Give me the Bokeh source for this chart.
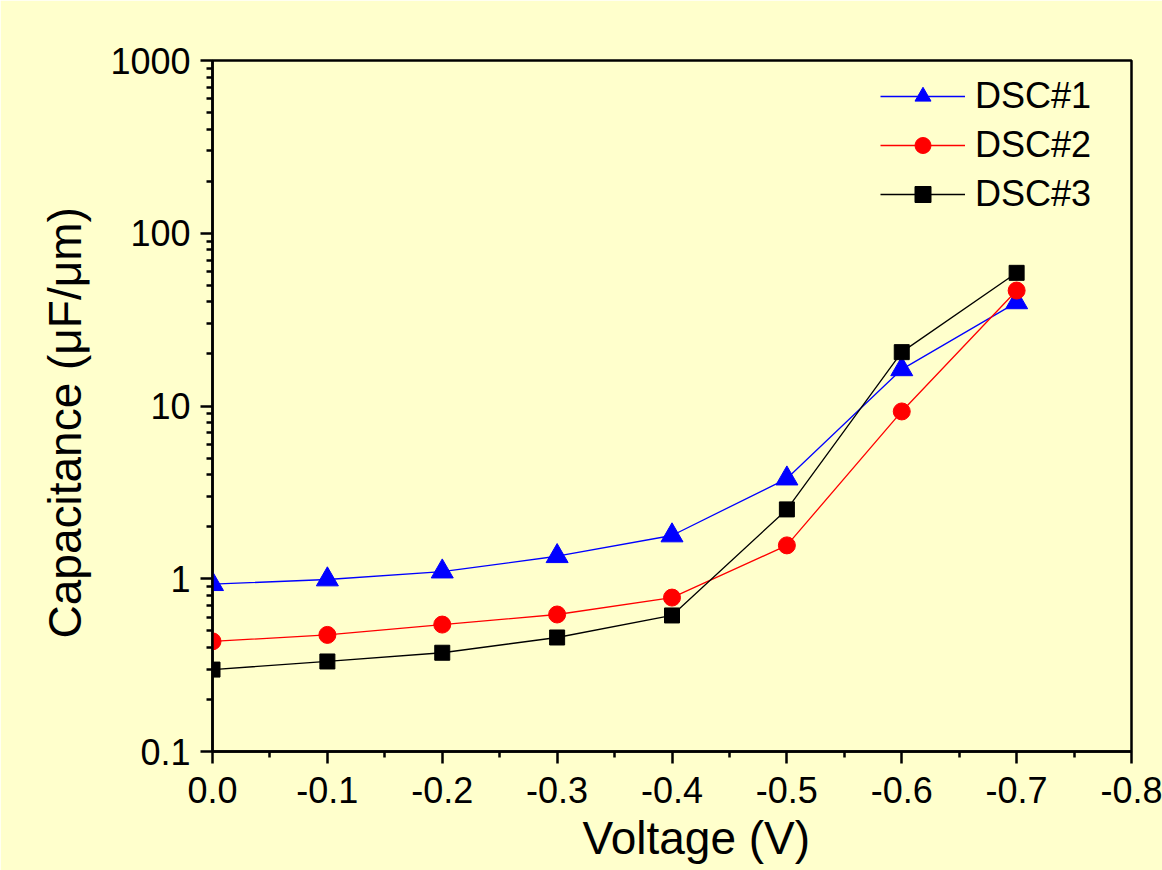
from bokeh.plotting import figure
from bokeh.models import Range1d, FixedTicker, NumeralTickFormatter, CustomJSTickFormatter, Legend, LegendItem, Title
from bokeh.embed import file_html
from bokeh.resources import INLINE

voltage = [0.0, -0.1, -0.2, -0.3, -0.4, -0.5, -0.6, -0.7]
dsc1 = [0.93, 0.99, 1.10, 1.35, 1.78, 3.80, 16.3, 39.8]
dsc2 = [0.434, 0.473, 0.543, 0.621, 0.778, 1.56, 9.3, 46.6]
dsc3 = [0.298, 0.332, 0.373, 0.457, 0.613, 2.52, 20.5, 59.0]

x_ticks = [0.0, -0.1, -0.2, -0.3, -0.4, -0.5, -0.6, -0.7, -0.8]
x_minor = [-0.05, -0.15, -0.25, -0.35, -0.45, -0.55, -0.65, -0.75]
y_ticks = [0.1, 1, 10, 100, 1000]
y_minor = [m * d for d in [0.1, 1, 10, 100] for m in range(2, 10)]

x_title = "Voltage (V)"
y_title = "Capacitance (\u03bcF/\u03bcm)"

BG = "#FFFFCC"
FONT = "Liberation Sans"

p = figure(width=1162, height=870, output_backend="svg", toolbar_location=None,
           y_axis_type="log",
           x_range=Range1d(0.0, -0.8), y_range=Range1d(0.1, 1000),
           min_border_left=212, min_border_right=31, min_border_top=60, min_border_bottom=119)
p.background_fill_color = BG
p.border_fill_color = BG
p.grid.visible = False
p.outline_line_color = "black"
p.outline_line_width = 2.5

r1 = p.line(voltage, dsc1, line_color="blue", line_width=1.3)
m1 = p.scatter(voltage, dsc1, marker="triangle", size=22, fill_color="blue", line_color="blue")
r2 = p.line(voltage, dsc2, line_color="red", line_width=1.3)
m2 = p.scatter(voltage, dsc2, marker="circle", size=17, fill_color="red", line_color="red")
r3 = p.line(voltage, dsc3, line_color="black", line_width=1.3)
m3 = p.scatter(voltage, dsc3, marker="square", size=15, fill_color="black", line_color="black")

for ax in (p.xaxis[0], p.yaxis[0]):
    ax.axis_line_width = 2.5
    ax.major_tick_line_width = 2.5
    ax.minor_tick_line_width = 2.5
    ax.major_tick_out = 12
    ax.major_tick_in = 0
    ax.minor_tick_out = 6
    ax.minor_tick_in = 0
    ax.major_label_text_font = FONT
    ax.major_label_text_font_size = "36px"
    ax.major_label_text_color = "black"

p.xaxis[0].ticker = FixedTicker(ticks=x_ticks, minor_ticks=x_minor)
p.xaxis[0].formatter = NumeralTickFormatter(format="0.0")
p.xaxis[0].major_label_standoff = 13

p.yaxis[0].ticker = FixedTicker(ticks=y_ticks, minor_ticks=y_minor)
p.yaxis[0].formatter = CustomJSTickFormatter(code="return String(Number(tick.toPrecision(6)));")
p.yaxis[0].major_label_standoff = 10

# axis titles as side-panel titles, offset relative to the frame
p.add_layout(Title(text=x_title, align="left", offset=370, standoff=8,
                   text_font=FONT, text_font_size="46px", text_font_style="normal",
                   text_color="black"), "below")
p.add_layout(Title(text=y_title, align="left", offset=113, standoff=34,
                   text_font=FONT, text_font_size="46px", text_font_style="normal",
                   text_color="black"), "left")

legend = Legend(items=[
    LegendItem(label="DSC#1", renderers=[r1, m1]),
    LegendItem(label="DSC#2", renderers=[r2, m2]),
    LegendItem(label="DSC#3", renderers=[r3, m3]),
], location=(668, 536))
legend.glyph_width = 85
legend.glyph_height = 40
legend.label_height = 40
legend.spacing = 7
legend.padding = 0
legend.margin = 0
legend.label_standoff = 10
legend.label_text_font = FONT
legend.label_text_font_size = "36px"
legend.label_text_color = "black"
legend.border_line_color = None
legend.background_fill_alpha = 0
p.add_layout(legend)

open("out.html", "w").write(file_html(p, INLINE))
